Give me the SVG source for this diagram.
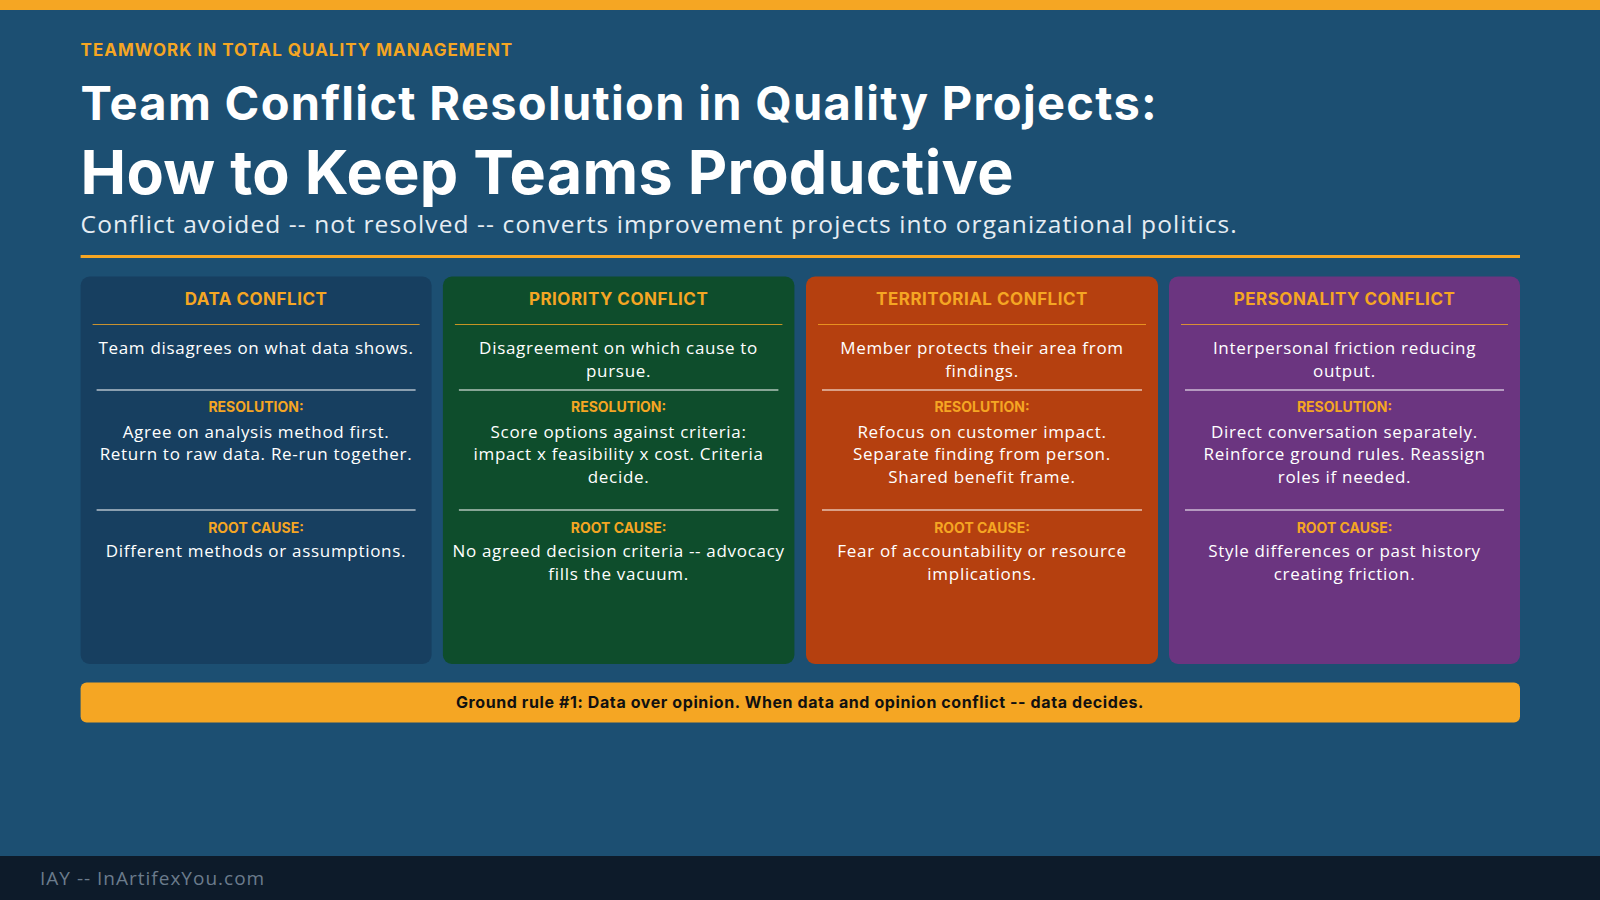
<svg xmlns="http://www.w3.org/2000/svg" width="1600" height="900" viewBox="0 0 1600 900">
<style>
.h{font-family:Inter,"Open Sans",sans-serif;font-weight:700}
.b{font-family:"Open Sans","Noto Sans",sans-serif}
.ct{font-family:Inter,sans-serif;font-weight:700;font-size:17px;fill:#f5a623;text-anchor:middle;letter-spacing:0.5px}
.lab{font-family:Inter,sans-serif;font-weight:700;font-size:14px;fill:#f5a623;text-anchor:middle}
.tx{font-family:"Open Sans",sans-serif;font-size:17px;fill:#fff;text-anchor:middle;letter-spacing:0.7px}
.sep{stroke:#fff;stroke-width:1.2}
.tsep{stroke:#f5a623;stroke-width:1.2;opacity:.8}
</style>
<rect width="1600" height="900" fill="#1c4f72"/>
<rect width="1600" height="10" fill="#f5a623"/>
<text x="80.6" y="56" class="h" font-size="17" fill="#f5a623" letter-spacing="1">TEAMWORK IN TOTAL QUALITY MANAGEMENT</text>
<text x="80.6" y="120" class="h" font-size="47" fill="#fff" letter-spacing="1.3">Team Conflict Resolution in Quality Projects:</text>
<text x="80.6" y="194" class="h" font-size="61" fill="#fff" letter-spacing="0.3">How to Keep Teams Productive</text>
<text x="80.6" y="233" class="b" font-size="24.5" fill="#e6edf3" letter-spacing="1.1">Conflict avoided -- not resolved -- converts improvement projects into organizational politics.</text>
<rect x="80.6" y="255" width="1439.4" height="3" fill="#f5a623"/>
<g id="card1">
<rect x="80.6" y="276.5" width="351" height="387.5" rx="9" fill="#173f60"/>
<text x="256" y="305" class="ct">DATA CONFLICT</text>
<line x1="92.6" y1="324.5" x2="419.6" y2="324.5" class="tsep"/>
<text x="256" y="354" class="tx">Team disagrees on what data shows.</text>
<line x1="96.6" y1="390" x2="415.6" y2="390" class="sep"/>
<text x="256" y="412" class="lab">RESOLUTION:</text>
<text x="256" y="437.5" class="tx">Agree on analysis method first.</text>
<text x="256" y="460" class="tx">Return to raw data. Re-run together.</text>
<line x1="96.6" y1="510" x2="415.6" y2="510" class="sep"/>
<text x="256" y="532.6" class="lab">ROOT CAUSE:</text>
<text x="256" y="557" class="tx">Different methods or assumptions.</text>
</g>
<g id="card2">
<rect x="442.9" y="276.5" width="351.5" height="387.5" rx="9" fill="#0e4d2c"/>
<text x="618.6" y="305" class="ct">PRIORITY CONFLICT</text>
<line x1="454.9" y1="324.5" x2="782.4" y2="324.5" class="tsep"/>
<text x="618.6" y="354" class="tx">Disagreement on which cause to</text>
<text x="618.6" y="376.5" class="tx">pursue.</text>
<line x1="458.9" y1="390" x2="778.4" y2="390" class="sep"/>
<text x="618.6" y="412" class="lab">RESOLUTION:</text>
<text x="618.6" y="437.5" class="tx">Score options against criteria:</text>
<text x="618.6" y="460" class="tx">impact x feasibility x cost. Criteria</text>
<text x="618.6" y="482.7" class="tx">decide.</text>
<line x1="458.9" y1="510" x2="778.4" y2="510" class="sep"/>
<text x="618.6" y="532.6" class="lab">ROOT CAUSE:</text>
<text x="618.6" y="557" class="tx">No agreed decision criteria -- advocacy</text>
<text x="618.6" y="579.6" class="tx">fills the vacuum.</text>
</g>
<g id="card3">
<rect x="806" y="276.5" width="352" height="387.5" rx="9" fill="#b5400f"/>
<text x="982" y="305" class="ct">TERRITORIAL CONFLICT</text>
<line x1="818" y1="324.5" x2="1146" y2="324.5" class="tsep"/>
<text x="982" y="354" class="tx">Member protects their area from</text>
<text x="982" y="376.5" class="tx">findings.</text>
<line x1="822" y1="390" x2="1142" y2="390" class="sep"/>
<text x="982" y="412" class="lab">RESOLUTION:</text>
<text x="982" y="437.5" class="tx">Refocus on customer impact.</text>
<text x="982" y="460" class="tx">Separate finding from person.</text>
<text x="982" y="482.7" class="tx">Shared benefit frame.</text>
<line x1="822" y1="510" x2="1142" y2="510" class="sep"/>
<text x="982" y="532.6" class="lab">ROOT CAUSE:</text>
<text x="982" y="557" class="tx">Fear of accountability or resource</text>
<text x="982" y="579.6" class="tx">implications.</text>
</g>
<g id="card4">
<rect x="1169" y="276.5" width="351" height="387.5" rx="9" fill="#6b3580"/>
<text x="1344.5" y="305" class="ct">PERSONALITY CONFLICT</text>
<line x1="1181" y1="324.5" x2="1508" y2="324.5" class="tsep"/>
<text x="1344.5" y="354" class="tx">Interpersonal friction reducing</text>
<text x="1344.5" y="376.5" class="tx">output.</text>
<line x1="1185" y1="390" x2="1504" y2="390" class="sep"/>
<text x="1344.5" y="412" class="lab">RESOLUTION:</text>
<text x="1344.5" y="437.5" class="tx">Direct conversation separately.</text>
<text x="1344.5" y="460" class="tx">Reinforce ground rules. Reassign</text>
<text x="1344.5" y="482.7" class="tx">roles if needed.</text>
<line x1="1185" y1="510" x2="1504" y2="510" class="sep"/>
<text x="1344.5" y="532.6" class="lab">ROOT CAUSE:</text>
<text x="1344.5" y="557" class="tx">Style differences or past history</text>
<text x="1344.5" y="579.6" class="tx">creating friction.</text>
</g>
<g id="banner">
<rect x="80.6" y="682.6" width="1439.4" height="39.8" rx="6" fill="#f5a623"/>
<text x="800" y="708" class="h" font-size="16" fill="#111" text-anchor="middle" letter-spacing="0.6">Ground rule #1: Data over opinion. When data and opinion conflict -- data decides.</text>
</g>
<g id="connectors"/>
<rect x="0" y="856" width="1600" height="44" fill="#0d1b2a"/>
<text x="40" y="885" class="b" font-size="19" fill="#6b7b8c" letter-spacing="1">IAY -- InArtifexYou.com</text>
</svg>
